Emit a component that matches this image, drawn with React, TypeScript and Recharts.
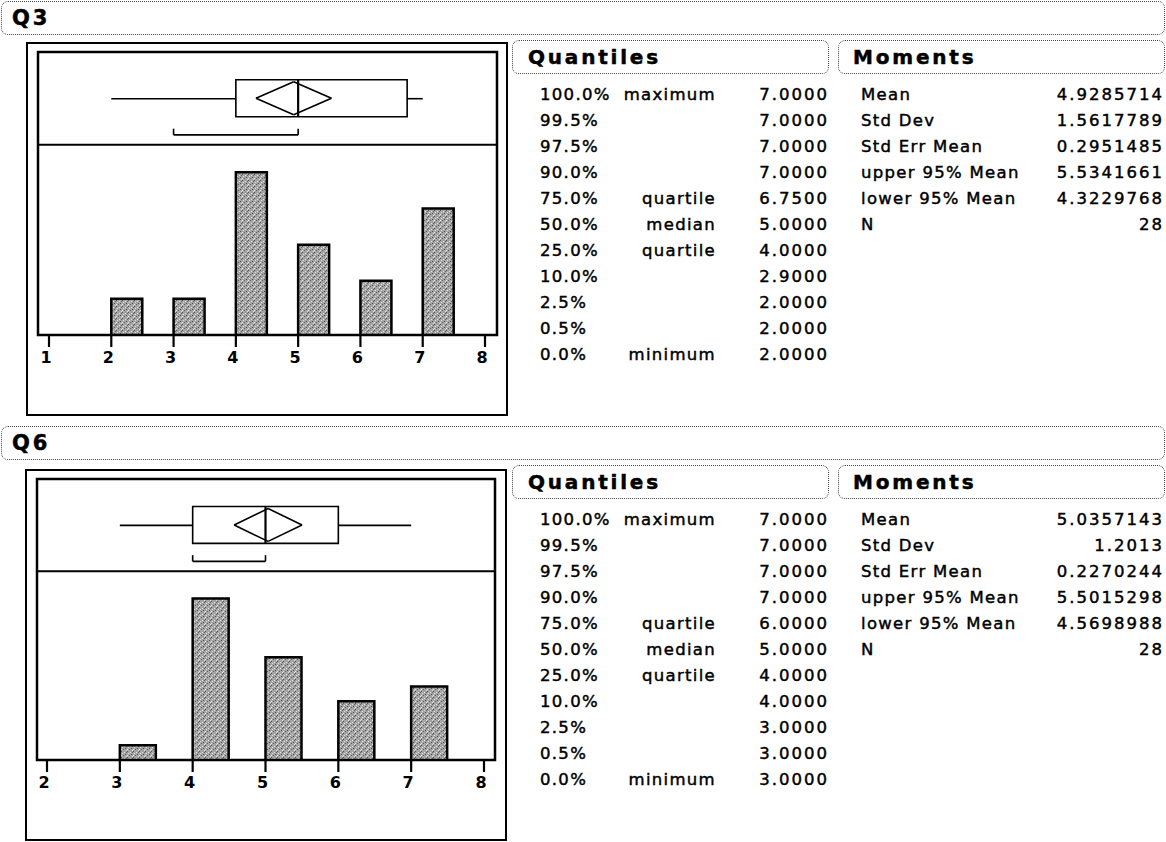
import React from 'react';
import { ComposedChart, Bar, XAxis, YAxis, ReferenceArea, ReferenceLine } from 'recharts';

// ---- Report rows shared by both distributions ----
const quantileLevels = ['100.0%', '99.5%', '97.5%', '90.0%', '75.0%', '50.0%', '25.0%', '10.0%', '2.5%', '0.5%', '0.0%'];
const quantileNames = ['maximum', '', '', '', 'quartile', 'median', 'quartile', '', '', '', 'minimum'];
const momentLabels = ['Mean', 'Std Dev', 'Std Err Mean', 'upper 95% Mean', 'lower 95% Mean', 'N'];

// ---- Q3 ----
const q3Values = [2, 3, 4, 5, 6, 7];
const q3Counts = [2, 2, 9, 5, 3, 7];
const q3Quantiles = [7, 7, 7, 7, 6.75, 5, 4, 2.9, 2, 2, 2];
const q3Moments = [4.9285714, 1.5617789, 0.2951485, 5.5341661, 4.3229768, 28];
const q3ShortestHalf = [3, 5];
const q3Ticks = [1, 2, 3, 4, 5, 6, 7, 8];

// ---- Q6 ----
const q6Values = [3, 4, 5, 6, 7];
const q6Counts = [1, 11, 7, 4, 5];
const q6Quantiles = [7, 7, 7, 7, 6, 5, 4, 4, 3, 3, 3];
const q6Moments = [5.0357143, 1.2013, 0.2270244, 5.5015298, 4.5698988, 28];
const q6ShortestHalf = [4, 5];
const q6Ticks = [2, 3, 4, 5, 6, 7, 8];

const BIN_WIDTH = 0.5;

// vertical layout of the outlier box plot, as fractions of the plot height
const DIVIDER = 0.672;
const BOX_TOP = 0.902;
const BOX_BOTTOM = 0.771;
const DIAMOND_TOP = 0.895;
const DIAMOND_BOTTOM = 0.778;
const WHISKER_Y = 0.835;
const BRACKET_Y = 0.707;
const BRACKET_TICK = 0.729;

const BODY_FONT = '"DejaVu Sans", Verdana, sans-serif';

function buildBins(values: number[], counts: number[], ticks: number[]) {
  const lo = ticks[0];
  const hi = ticks[ticks.length - 1];
  const bins: { start: number; count: number }[] = [];
  for (let s = lo; s < hi - 1e-9; s += BIN_WIDTH) {
    const idx = values.indexOf(s);
    bins.push({ start: s, count: idx >= 0 ? counts[idx] : 0 });
  }
  return bins;
}

function fmtMoment(v: number) {
  if (Number.isInteger(v)) return String(v);
  return v.toFixed(7).replace(/0+$/, '');
}

type DistProps = {
  id: string;
  values: number[];
  counts: number[];
  quantiles: number[];
  moments: number[];
  shortestHalf: number[];
  ticks: number[];
  width: number;
  height: number;
  margin: { top: number; right: number; bottom: number; left: number };
  padL: number;
  padR: number;
};

function DistChart(p: DistProps) {
  const bins = buildBins(p.values, p.counts, p.ticks);
  const [qMax, , , , qUpper, qMed, qLower, , , , qMin] = p.quantiles;
  const [mean, , , upperMean, lowerMean] = p.moments;
  const countTop = Math.max(...p.counts) * 1.74;
  const ax = { xAxisId: 'num', yAxisId: 'box', ifOverflow: 'visible' as const };
  const seg = (x1: number, y1: number, x2: number, y2: number, key: string, w = 1.6) => (
    <ReferenceLine key={key} {...ax} segment={[{ x: x1, y: y1 }, { x: x2, y: y2 }]} stroke="#000" strokeWidth={w} />
  );
  const midBox = (BOX_TOP + BOX_BOTTOM) / 2;
  return (
    <ComposedChart
      width={p.width}
      height={p.height}
      data={bins}
      margin={p.margin}
      barCategoryGap={0}
      barGap={0}
    >
      <defs>
        <pattern id={p.id} width="6" height="6" patternUnits="userSpaceOnUse">
          <rect width="6" height="6" fill="#a4a4a4" />
          <rect x="0" y="0" width="1" height="1" fill="#555" />
          <rect x="3" y="1" width="1" height="1" fill="#e4e4e4" />
          <rect x="1" y="2" width="1" height="1" fill="#e0e0e0" />
          <rect x="4" y="3" width="1" height="1" fill="#505050" />
          <rect x="2" y="4" width="1" height="1" fill="#606060" />
          <rect x="5" y="5" width="1" height="1" fill="#dcdcdc" />
          <rect x="0" y="4" width="1" height="1" fill="#e8e8e8" />
          <rect x="5" y="1" width="1" height="1" fill="#666" />
        </pattern>
      </defs>
      <XAxis xAxisId="bins" dataKey="start" type="category" hide orientation="top" height={0} padding={{ left: p.padL, right: p.padR }} />
      <XAxis xAxisId="frame" dataKey="start" type="number" domain={[0, 1]} hide orientation="top" height={0} allowDataOverflow />
      <XAxis
        xAxisId="num"
        dataKey="start"
        type="number"
        domain={[p.ticks[0], p.ticks[p.ticks.length - 1]]}
        ticks={p.ticks}
        interval={0}
        allowDataOverflow
        padding={{ left: p.padL, right: p.padR }}
        axisLine={false}
        tickLine={{ stroke: '#000', strokeWidth: 2.2 }}
        tickSize={12}
        tickMargin={5}
        height={30}
        tick={{ fill: '#000', fontSize: 16, fontWeight: 'bold', fontFamily: BODY_FONT, dx: -3 }}
      />
      <YAxis yAxisId="count" domain={[0, countTop]} hide width={0} allowDataOverflow />
      <YAxis yAxisId="box" domain={[0, 1]} hide width={0} allowDataOverflow />

      <Bar
        xAxisId="bins"
        yAxisId="count"
        dataKey="count"
        fill={`url(#${p.id})`}
        stroke="#000"
        strokeWidth={2.5}
        isAnimationActive={false}
      />

      {/* plot frame and the rule between box plot and histogram */}
      <ReferenceArea xAxisId="frame" yAxisId="box" x1={0} x2={1} y1={0} y2={1} fill="none" stroke="#000" strokeWidth={2.5} ifOverflow="visible" />
      <ReferenceLine xAxisId="frame" yAxisId="box" segment={[{ x: 0, y: DIVIDER }, { x: 1, y: DIVIDER }]} stroke="#000" strokeWidth={2} ifOverflow="visible" />

      {/* outlier box plot */}
      <ReferenceArea {...ax} x1={qLower} x2={qUpper} y1={BOX_BOTTOM} y2={BOX_TOP} fill="#fff" fillOpacity={1} stroke="#000" strokeWidth={1.6} />
      {seg(qMin, WHISKER_Y, qLower, WHISKER_Y, 'wl')}
      {seg(qUpper, WHISKER_Y, qMax, WHISKER_Y, 'wr')}
      {seg(qMed, BOX_BOTTOM, qMed, BOX_TOP, 'med', 2.2)}

      {/* means diamond */}
      {seg(lowerMean, midBox, mean, DIAMOND_TOP, 'd1')}
      {seg(mean, DIAMOND_TOP, upperMean, midBox, 'd2')}
      {seg(upperMean, midBox, mean, DIAMOND_BOTTOM, 'd3')}
      {seg(mean, DIAMOND_BOTTOM, lowerMean, midBox, 'd4')}

      {/* shortest half bracket */}
      {seg(p.shortestHalf[0], BRACKET_Y, p.shortestHalf[1], BRACKET_Y, 'b0')}
      {seg(p.shortestHalf[0], BRACKET_Y, p.shortestHalf[0], BRACKET_TICK, 'b1')}
      {seg(p.shortestHalf[1], BRACKET_Y, p.shortestHalf[1], BRACKET_TICK, 'b2')}
    </ComposedChart>
  );
}

const outline: React.CSSProperties = {
  position: 'absolute',
  boxSizing: 'border-box',
  border: '1px dotted #444',
  borderRadius: 7,
  height: 34,
};

const titleText: React.CSSProperties = {
  position: 'absolute',
  fontFamily: BODY_FONT,
  fontWeight: 'bold',
  fontSize: 20,
  letterSpacing: 2.8,
  lineHeight: '34px',
  top: -1,
  whiteSpace: 'nowrap',
  color: '#000',
  WebkitTextStroke: '0.5px #000',
};

const cell: React.CSSProperties = {
  position: 'absolute',
  fontFamily: BODY_FONT,
  fontSize: 16.5,
  letterSpacing: 1.3,
  lineHeight: '26px',
  height: 26,
  whiteSpace: 'nowrap',
  color: '#000',
  WebkitTextStroke: '0.45px #000',
};

type PanelProps = {
  name: string;
  top: number;
  frame: { left: number; top: number; width: number; height: number };
  margin: { top: number; right: number; bottom: number; left: number };
  padL: number;
  padR: number;
  values: number[];
  counts: number[];
  quantiles: number[];
  moments: number[];
  shortestHalf: number[];
  ticks: number[];
};

function Panel(p: PanelProps) {
  const boxTop = p.top + 40;
  const rowStart = p.top + 95;
  return (
    <>
      {/* section header */}
      <div style={{ ...outline, left: 1, top: p.top + 1, width: 1164 }}>
        <div style={{ ...titleText, left: 10, fontSize: 21 }}>{p.name}</div>
      </div>

      {/* distribution graph */}
      <div style={{ position: 'absolute', left: p.frame.left, top: p.frame.top, width: p.frame.width, height: p.frame.height }}>
        <div style={{ position: 'absolute', inset: 0, boxSizing: 'border-box', border: '2px solid #000' }} />
        <div style={{ position: 'absolute', left: 0, top: 0 }}>
          <DistChart
            id={`stipple-${p.name}`}
            values={p.values}
            counts={p.counts}
            quantiles={p.quantiles}
            moments={p.moments}
            shortestHalf={p.shortestHalf}
            ticks={p.ticks}
            width={p.frame.width}
            height={p.frame.height}
            margin={p.margin}
            padL={p.padL}
            padR={p.padR}
          />
        </div>
      </div>

      {/* Quantiles */}
      <div style={{ ...outline, left: 512, top: boxTop, width: 317 }}>
        <div style={{ ...titleText, left: 15 }}>Quantiles</div>
      </div>
      {quantileLevels.map((lvl, i) => (
        <React.Fragment key={lvl}>
          <div style={{ ...cell, left: 540, top: rowStart + 26 * i - 13 }}>{lvl}</div>
          <div style={{ ...cell, left: 600, width: 116, textAlign: 'right', top: rowStart + 26 * i - 13 }}>{quantileNames[i]}</div>
          <div style={{ ...cell, left: 720, width: 109, textAlign: 'right', letterSpacing: 2, top: rowStart + 26 * i - 13 }}>
            {p.quantiles[i].toFixed(4)}
          </div>
        </React.Fragment>
      ))}

      {/* Moments */}
      <div style={{ ...outline, left: 838, top: boxTop, width: 327 }}>
        <div style={{ ...titleText, left: 14 }}>Moments</div>
      </div>
      {momentLabels.map((lab, i) => (
        <React.Fragment key={lab}>
          <div style={{ ...cell, left: 861, top: rowStart + 26 * i - 13 }}>{lab}</div>
          <div style={{ ...cell, left: 1020, width: 144, textAlign: 'right', letterSpacing: 2, top: rowStart + 26 * i - 13 }}>
            {fmtMoment(p.moments[i])}
          </div>
        </React.Fragment>
      ))}
    </>
  );
}

export default function App() {
  return (
    <div style={{ position: 'absolute', left: 0, top: 0, width: 1166, height: 842, background: '#fff', overflow: 'hidden' }}>
      <Panel
        name="Q3"
        top={0}
        frame={{ left: 26, top: 42, width: 482, height: 374 }}
        margin={{ top: 10, right: 11, bottom: 51, left: 12 }}
        padL={11}
        padR={12}
        values={q3Values}
        counts={q3Counts}
        quantiles={q3Quantiles}
        moments={q3Moments}
        shortestHalf={q3ShortestHalf}
        ticks={q3Ticks}
      />
      <Panel
        name="Q6"
        top={425}
        frame={{ left: 25, top: 469, width: 482, height: 372 }}
        margin={{ top: 10, right: 12, bottom: 51, left: 12 }}
        padL={10}
        padR={11}
        values={q6Values}
        counts={q6Counts}
        quantiles={q6Quantiles}
        moments={q6Moments}
        shortestHalf={q6ShortestHalf}
        ticks={q6Ticks}
      />
    </div>
  );
}
